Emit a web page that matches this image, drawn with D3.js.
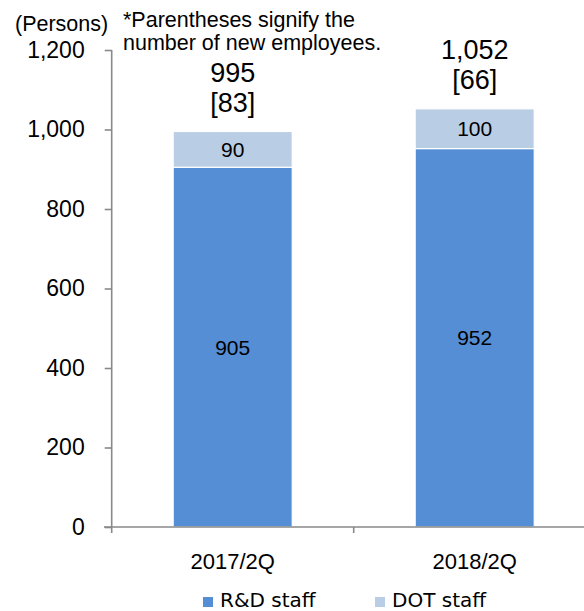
<!DOCTYPE html>
<html>
<head>
<meta charset="utf-8">
<script src="https://cdn.jsdelivr.net/npm/d3@7"></script>
<style>
  body { margin: 0; background: #fff; }
  svg text { font-family: "Liberation Sans", Arial, sans-serif; fill: #000; }
</style>
</head>
<body>
<svg id="chart" width="584" height="611"></svg>
<script>
// chart data
var periods = ["2017/2Q", "2018/2Q"];
var rdStaff = [905, 952];
var dotStaff = [90, 100];
var totals = [995, 1052];
var newHires = [83, 66];
var yTicks = [0, 200, 400, 600, 800, 1000, 1200];
var seriesNames = ["R&D staff", "DOT staff"];

var colors = ["#558ed5", "#b9cde5"];
var axisColor = "#898989";

var svg = d3.select("#chart");

var y = d3.scaleLinear().domain([0, 1200]).range([527, 50]);
var x = d3.scaleBand().domain(periods)
  .range([111.7, 595.7])
  .paddingInner(0.508)
  .paddingOuter(0.254);

var fmt = d3.format(",");

// stacked series
var rows = periods.map(function(p, i) {
  return {period: p, rd: rdStaff[i], dot: dotStaff[i]};
});
var layers = d3.stack().keys(["rd", "dot"])(rows);

var g = svg.append("g");

layers.forEach(function(layer, li) {
  g.selectAll(null)
    .data(layer)
    .enter().append("rect")
    .attr("x", function(d) { return x(d.data.period); })
    .attr("width", x.bandwidth())
    .attr("y", function(d) { return y(d[1]); })
    .attr("height", function(d) { return y(d[0]) - y(d[1]); })
    .attr("fill", colors[li])
    .attr("stroke", "#fff")
    .attr("stroke-width", 1.2);

  // value inside the segment
  g.selectAll(null)
    .data(layer)
    .enter().append("text")
    .attr("x", function(d) { return x(d.data.period) + x.bandwidth() / 2; })
    .attr("y", function(d) { return (y(d[0]) + y(d[1])) / 2 + 7.5; })
    .attr("text-anchor", "middle")
    .style("font-size", "21px")
    .text(function(d) { return fmt(d[1] - d[0]); });
});

// totals and new employee counts above bars
periods.forEach(function(p, i) {
  var cx = x(p) + x.bandwidth() / 2;
  var top = y(totals[i]);
  g.append("text")
    .attr("x", cx).attr("y", top - 49.5)
    .attr("text-anchor", "middle")
    .style("font-size", "27px")
    .text(fmt(totals[i]));
  g.append("text")
    .attr("x", cx).attr("y", top - 19.5)
    .attr("text-anchor", "middle")
    .style("font-size", "27px")
    .text("[" + newHires[i] + "]");
});

// y axis
var yAxis = d3.axisLeft(y).tickValues(yTicks).tickSize(7).tickPadding(20)
  .tickFormat(fmt);
var ya = svg.append("g").attr("transform", "translate(111.7,0)").call(yAxis);
ya.select(".domain").attr("stroke", axisColor).attr("stroke-width", 1.6)
  .attr("d", "M0,50V533");
ya.selectAll(".tick line").attr("stroke", axisColor).attr("stroke-width", 1.6);
ya.selectAll(".tick text")
  .style("font-size", "23px")
  .style("font-family", "Liberation Sans, Arial, sans-serif")
  .attr("fill", "#000");

// x axis with a tick between the two categories
svg.append("line")
  .attr("x1", 104).attr("x2", 584)
  .attr("y1", y(0)).attr("y2", y(0))
  .attr("stroke", axisColor).attr("stroke-width", 1.6);
var boundary = x.range()[0] + x.step();
svg.append("line")
  .attr("x1", boundary).attr("x2", boundary)
  .attr("y1", y(0)).attr("y2", y(0) + 6)
  .attr("stroke", axisColor).attr("stroke-width", 1.6);

svg.selectAll(null)
  .data(periods)
  .enter().append("text")
  .attr("x", function(d) { return x(d) + x.bandwidth() / 2; })
  .attr("y", 569)
  .attr("text-anchor", "middle")
  .style("font-size", "22px")
  .text(function(d) { return d; });

// unit and note
svg.append("text").attr("x", 15).attr("y", 31)
  .style("font-size", "21.5px").text("(Persons)");
svg.append("text").attr("x", 123).attr("y", 27)
  .style("font-size", "21.5px").text("*Parentheses signify the");
svg.append("text").attr("x", 123).attr("y", 50)
  .style("font-size", "21.5px").text("number of new employees.");

// legend
var legendX = [203, 375];
seriesNames.forEach(function(name, i) {
  svg.append("rect")
    .attr("x", legendX[i]).attr("y", 597)
    .attr("width", 10).attr("height", 10)
    .attr("fill", colors[i]);
  svg.append("text")
    .attr("x", legendX[i] + 17).attr("y", 607)
    .style("font-family", "DejaVu Sans, sans-serif")
    .style("font-size", "20px")
    .text(name);
});
</script>
</body>
</html>
